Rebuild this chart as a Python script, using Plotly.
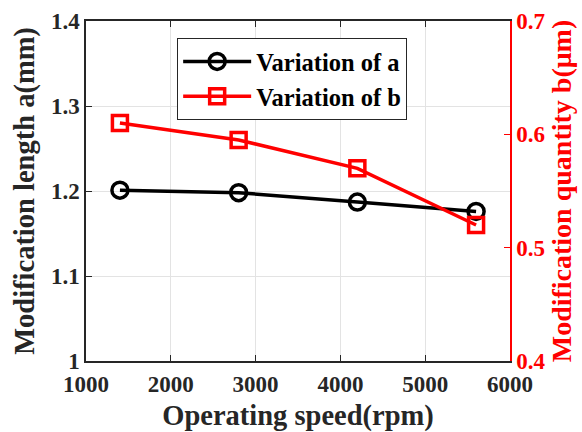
import plotly.graph_objects as go

speed = [1400, 2800, 4200, 5600]
var_a = [1.201, 1.198, 1.187, 1.176]
var_b = [0.610, 0.595, 0.570, 0.520]

x_ticks = [1000, 2000, 3000, 4000, 5000, 6000]
y1_ticks = [1.0, 1.1, 1.2, 1.3, 1.4]
y1_text = ["1", "1.1", "1.2", "1.3", "1.4"]
y2_ticks = [0.4, 0.5, 0.6, 0.7]
y2_text = ["0.4", "0.5", "0.6", "0.7"]

FONT = "Palatino Linotype, Book Antiqua, Palatino, Liberation Serif, serif"
DARK = "#262626"
RED = "#ff0000"

fig = go.Figure()
fig.add_trace(go.Scatter(
    x=speed, y=var_a, name="Variation of a", mode="lines+markers",
    line=dict(color="black", width=3.5),
    marker=dict(symbol="circle-open", size=16, color="black", line=dict(width=3.5)),
    yaxis="y"))
fig.add_trace(go.Scatter(
    x=speed, y=var_b, name="Variation of b", mode="lines+markers",
    line=dict(color=RED, width=3.5),
    marker=dict(symbol="square-open", size=15, color=RED, line=dict(width=3.5)),
    yaxis="y2"))

fig.update_layout(
    width=582, height=432,
    margin=dict(l=86, r=72, t=21, b=71),
    paper_bgcolor="white", plot_bgcolor="white",
    font=dict(family=FONT, size=23, color=DARK),
    showlegend=True,
    legend=dict(x=0.215, y=0.95, xanchor="left", yanchor="top",
                bgcolor="white", bordercolor=DARK, borderwidth=1,
                itemwidth=68,
                font=dict(family=FONT, size=24.5, color="black", weight="bold"),
                tracegroupgap=0),
    xaxis=dict(range=[1000, 6000], tickvals=x_ticks, ticktext=[str(v) for v in x_ticks],
               automargin=False,
               showline=True, linecolor=DARK, linewidth=1.5, mirror="ticks",
               ticks="inside", ticklen=6, tickcolor=DARK,
               ticklabelstandoff=2,
               showgrid=True, gridcolor="#e3e3e3", gridwidth=1, zeroline=False,
               tickfont=dict(family=FONT, size=23, color=DARK, weight="bold"),
               title=dict(text="Operating speed(rpm)", standoff=9,
                          font=dict(family=FONT, size=28.5, color=DARK, weight="bold"))),
    yaxis=dict(range=[1.0, 1.4], tickvals=y1_ticks, ticktext=y1_text,
               automargin=False,
               showline=True, linecolor=DARK, linewidth=1.5,
               ticks="inside", ticklen=6, tickcolor=DARK,
               showgrid=True, gridcolor="#e3e3e3", gridwidth=1, zeroline=False,
               tickfont=dict(family=FONT, size=23, color=DARK, weight="bold"),
               title=dict(text="Modification length a(mm)", standoff=8,
                          font=dict(family=FONT, size=28.5, color=DARK, weight="bold"))),
    yaxis2=dict(range=[0.4, 0.7], tickvals=y2_ticks, ticktext=y2_text,
                overlaying="y", side="right", anchor="x",
                automargin=False,
                showline=True, linecolor=RED, linewidth=1.5,
                ticks="inside", ticklen=6, tickcolor=RED,
                showgrid=False, zeroline=False,
                tickfont=dict(family=FONT, size=23, color=RED, weight="bold"),
                title=dict(text="Modification quantity b(μm)", standoff=3,
                           font=dict(family=FONT, size=28, color=RED, weight="bold"))),
)

fig.write_html("out.html")
